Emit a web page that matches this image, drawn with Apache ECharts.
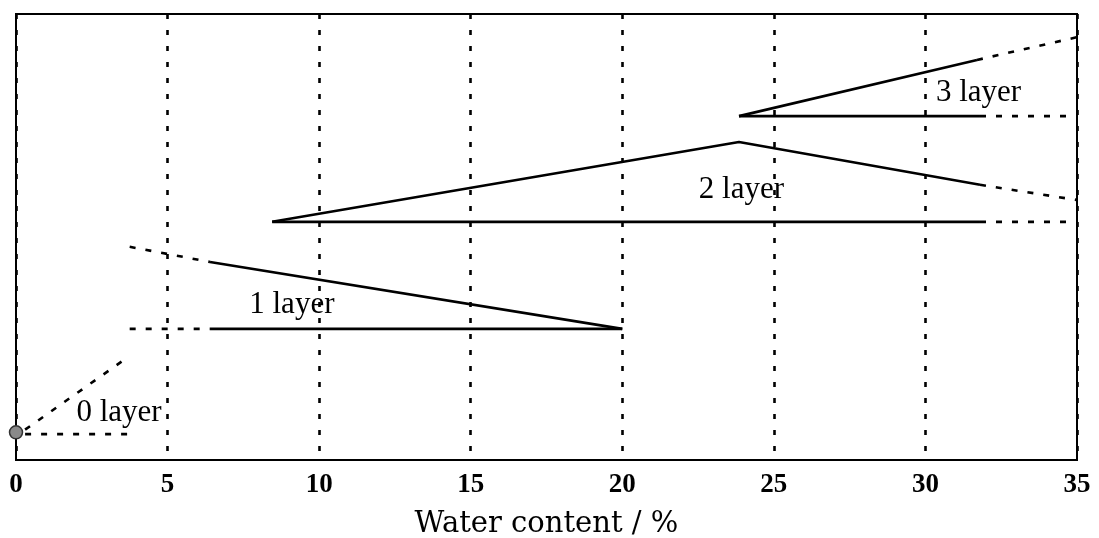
<!DOCTYPE html>
<html><head><meta charset="utf-8">
<script src="https://cdn.jsdelivr.net/npm/echarts@6/dist/echarts.min.js"></script>
<style>html,body{margin:0;padding:0;background:#fff}#c{width:1099px;height:538px}</style>
</head><body><div id="c"></div>
<script>
const xTicks = [0, 5, 10, 15, 20, 25, 30, 35];
const origin = [[0, 6.2]];
const layer0Slope = [[0.3, 6.8], [3.7, 23.1]];
const layer0Base = [[0.3, 5.8], [3.8, 5.8]];
const layer1UpperDashed = [[3.75, 47.8], [6.4, 44.4]];
const layer1UpperSolid = [[6.4, 44.4], [20, 29.4]];
const layer1BaseDashed = [[3.75, 29.4], [6.4, 29.4]];
const layer1BaseSolid = [[6.4, 29.4], [20, 29.4]];
const layer2UpperSolid = [[8.45, 53.4], [23.85, 71.3], [31.8, 61.7]];
const layer2UpperDashed = [[31.8, 61.7], [35, 58.3]];
const layer2BaseSolid = [[8.45, 53.4], [31.8, 53.4]];
const layer2BaseDashed = [[31.8, 53.4], [35, 53.4]];
const layer3UpperSolid = [[23.85, 77.1], [31.7, 89.7]];
const layer3UpperDashed = [[31.7, 89.7], [35, 94.8]];
const layer3BaseSolid = [[23.85, 77.1], [31.8, 77.1]];
const layer3BaseDashed = [[31.8, 77.1], [35, 77.1]];
const layerLabels = [
  {name: '0 layer', value: [3.4, 10.6]},
  {name: '1 layer', value: [9.1, 34.7]},
  {name: '2 layer', value: [23.93, 60.6]},
  {name: '3 layer', value: [31.75, 82.4]}
];

const font = '"Liberation Serif", "DejaVu Serif", serif';
function seg(data, dashed) {
  return {
    type: 'line', data: data, symbol: 'none', silent: true, animation: false,
    lineStyle: {color: '#000', width: 2.6, type: dashed ? [6, 10] : 'solid', cap: 'butt'}
  };
}
const chart = echarts.init(document.getElementById('c'), null, {renderer: 'canvas'});
chart.setOption({
  animation: false,
  grid: {left: 16, right: 22, top: 14, bottom: 78, containLabel: false, outerBoundsMode: 'none',
    show: true, borderColor: '#000', borderWidth: 2, backgroundColor: 'transparent'},
  xAxis: {
    type: 'value', min: 0, max: 35, interval: 5,
    axisLine: {show: true, lineStyle: {color: '#000', width: 2}},
    axisTick: {show: false},
    axisLabel: {color: '#000', fontFamily: font, fontWeight: 'bold', fontSize: 27, margin: 12,
      formatter: v => xTicks.includes(v) ? String(v) : ''},
    splitLine: {show: true, lineStyle: {color: '#000', width: 2.6, type: [5, 11]}},
    name: 'Water content / %', nameLocation: 'middle', nameGap: 50,
    nameTextStyle: {color: '#000', fontFamily: '"DejaVu Serif", serif', fontSize: 29}
  },
  yAxis: {
    type: 'value', min: 0, max: 100,
    axisLine: {show: true, lineStyle: {color: '#000', width: 2}},
    axisTick: {show: false}, axisLabel: {show: false}, splitLine: {show: false}
  },
  series: [
    seg(layer0Slope, true), seg(layer0Base, true),
    seg(layer1UpperDashed, true), seg(layer1UpperSolid, false),
    seg(layer1BaseDashed, true), seg(layer1BaseSolid, false),
    seg(layer2UpperSolid, false), seg(layer2UpperDashed, true),
    seg(layer2BaseSolid, false), seg(layer2BaseDashed, true),
    seg(layer3UpperSolid, false), seg(layer3UpperDashed, true),
    seg(layer3BaseSolid, false), seg(layer3BaseDashed, true),
    {type: 'scatter', data: origin, symbol: 'circle', symbolSize: 13, silent: true,
      itemStyle: {color: '#8a8a8a', borderColor: '#333', borderWidth: 1.5, opacity: 1}},
    {type: 'scatter', data: layerLabels, symbolSize: 1, silent: true,
      itemStyle: {opacity: 1, color: 'rgba(0,0,0,0)'},
      label: {show: true, position: 'inside', formatter: p => p.name, color: '#000', opacity: 1,
        fontFamily: font, fontSize: 31}}
  ]
});
</script></body></html>
